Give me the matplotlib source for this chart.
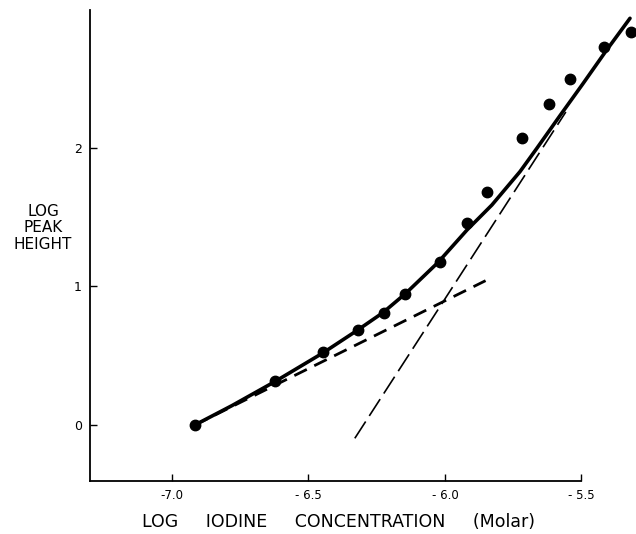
import matplotlib.pyplot as plt

# measured points (log iodine conc, log peak height)
log_conc = [-6.916, -6.623, -6.447, -6.319, -6.223, -6.147, -6.018,
            -5.919, -5.846, -5.718, -5.619, -5.542, -5.418, -5.319]
log_peak = [0.0, 0.318, 0.527, 0.686, 0.809, 0.946, 1.177,
            1.458, 1.682, 2.072, 2.318, 2.498, 2.729, 2.838]

# hand-drawn fitted curve, traced
curve_x = [-6.916, -6.78, -6.623, -6.447, -6.319, -6.227, -6.143, -6.026,
           -5.919, -5.828, -5.725, -5.663, -5.58, -5.495, -5.41, -5.322]
curve_y = [0.0, 0.140, 0.313, 0.520, 0.686, 0.811, 0.951, 1.172,
           1.408, 1.588, 1.829, 1.998, 2.229, 2.462, 2.700, 2.936]

# asymptote lines
low_x = [-6.916, -5.851]
low_y = [0.0, 1.042]
high_x = [-6.330, -5.557]
high_y = [-0.096, 2.26]

xticks = [-7.0, -6.5, -6.0, -5.5]
xtick_labels = ['-7.0', '- 6.5', '- 6.0', '- 5.5']
yticks = [0, 1, 2]
ytick_labels = ['0', '1', '2']

plt.rcParams['font.family'] = 'DejaVu Sans'

fig = plt.figure(figsize=(6.36, 5.34), dpi=100)
ax = fig.add_axes([0.1415, 0.0993, 0.8585, 0.882])

ax.plot(curve_x, curve_y, color='black', lw=2.6, solid_capstyle='round',
        solid_joinstyle='round', clip_on=False)
ax.plot(low_x, low_y, color='black', lw=2.0, dashes=(5, 3), clip_on=False)
ax.plot(high_x, high_y, color='black', lw=1.2, dashes=(12, 4), clip_on=False)
ax.plot(log_conc, log_peak, 'o', color='black', ms=7.5, clip_on=False)

ax.set_xlim(-7.30, -5.30)
ax.set_ylim(-0.404, 2.996)

for s in ['top', 'right']:
    ax.spines[s].set_visible(False)
ax.spines['bottom'].set_bounds(-7.30, -5.5)
ax.spines['left'].set_linewidth(1.3)
ax.spines['bottom'].set_linewidth(1.3)

ax.set_xticks(xticks)
ax.set_xticklabels(xtick_labels, fontsize=8.5)
ax.set_yticks(yticks)
ax.set_yticklabels(ytick_labels, fontsize=9)
ax.tick_params(direction='in', length=5, width=1.0, pad=6)
ax.tick_params(axis='x', pad=6)

fig.text(338 / 636, 1 - 522 / 534, 'LOG     IODINE     CONCENTRATION     (Molar)',
         ha='center', va='center', fontsize=12.5)
fig.text(43 / 636, 1 - 228 / 534, 'LOG\nPEAK\nHEIGHT', ha='center', va='center',
         fontsize=11, linespacing=1.15)

fig.savefig('out.png', dpi=100)
